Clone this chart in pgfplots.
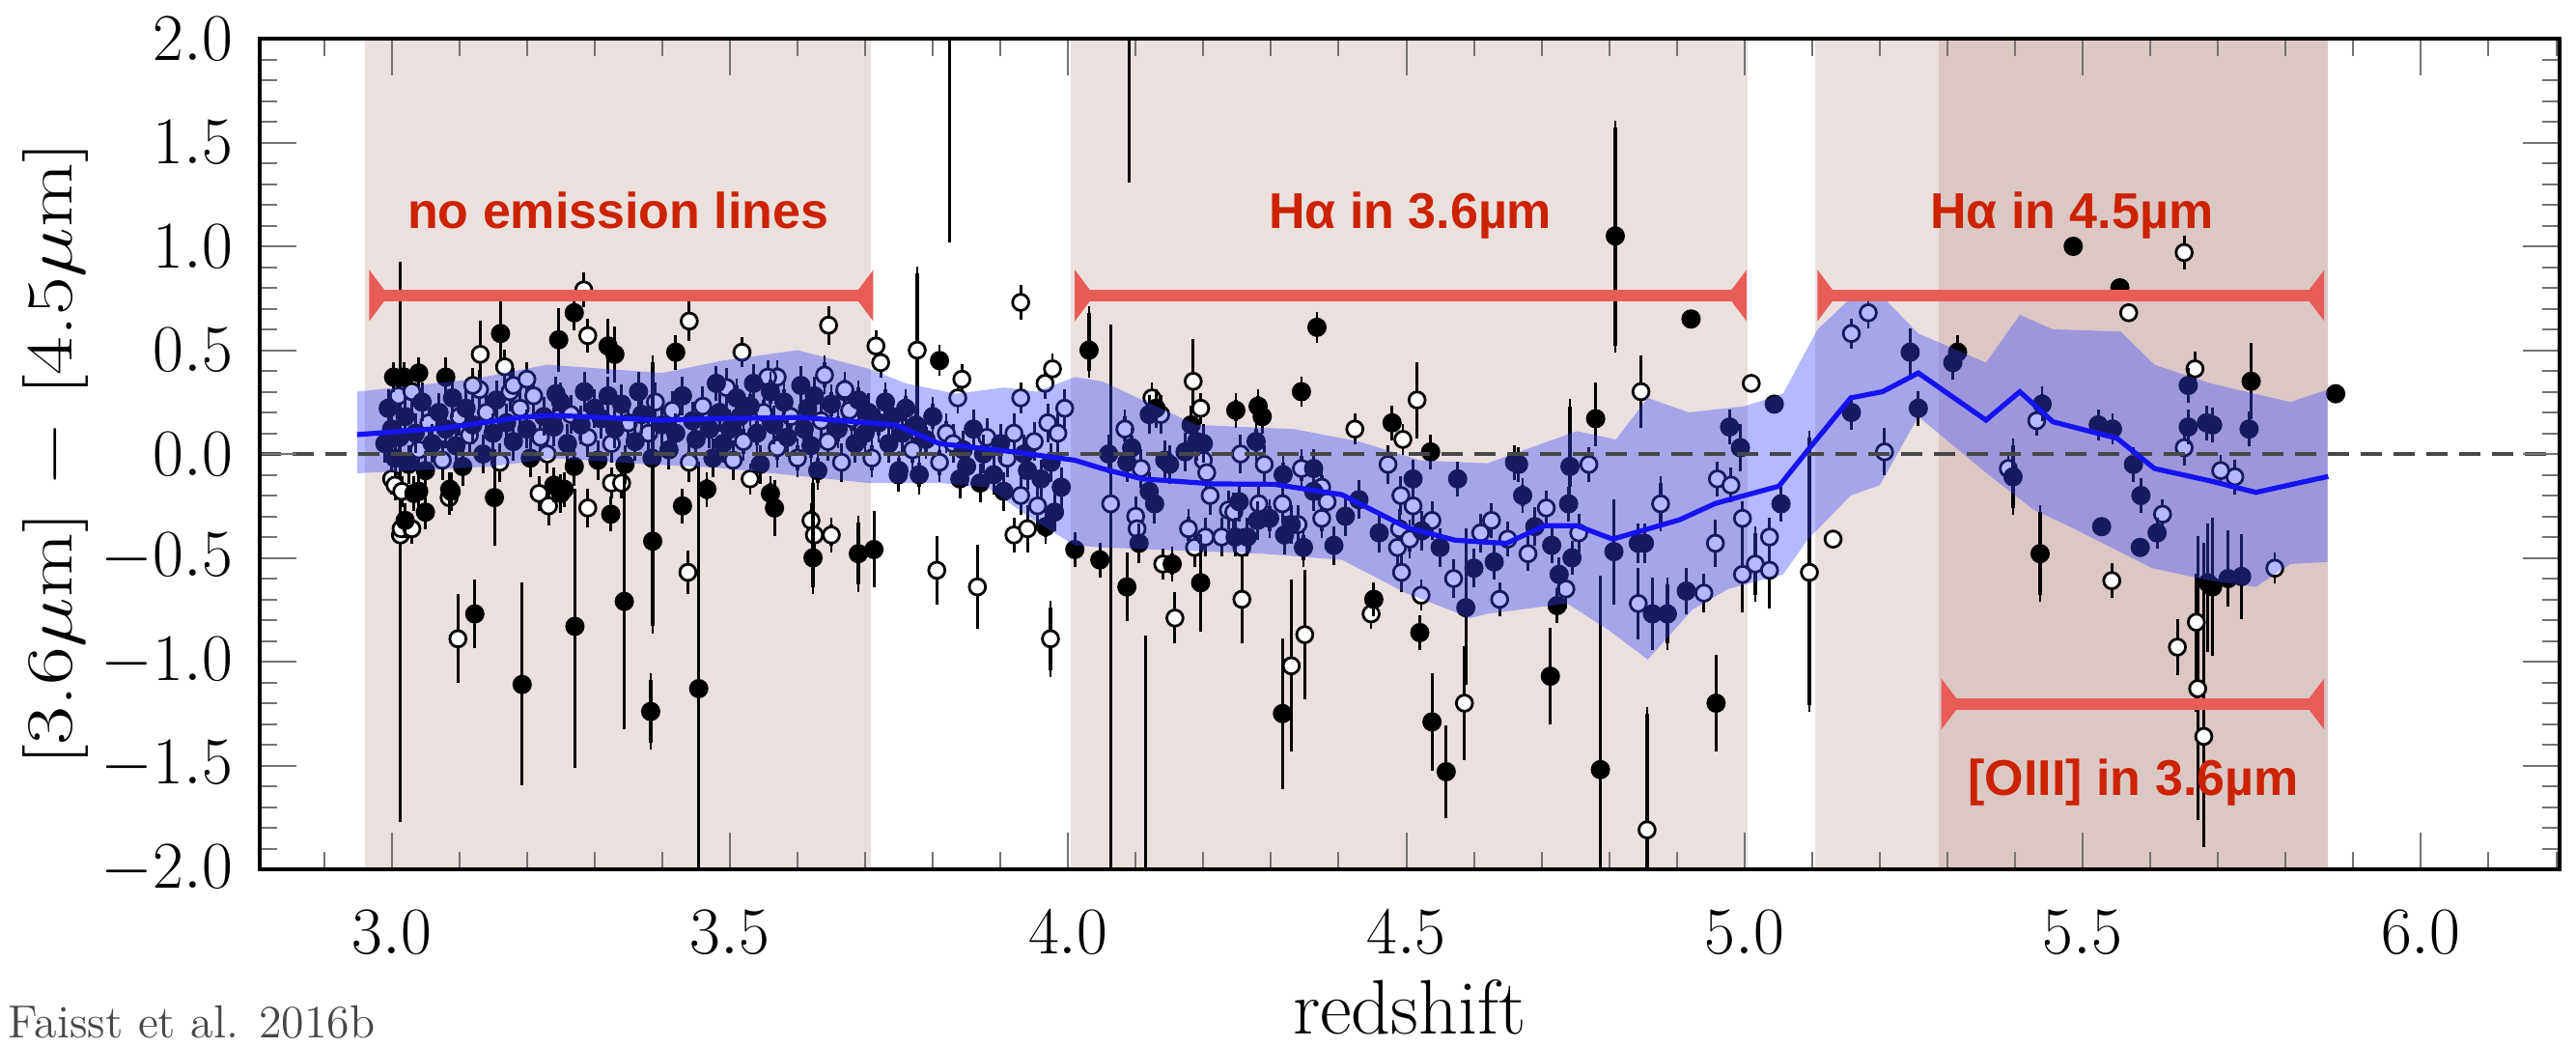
\documentclass[border=0pt]{standalone}
\usepackage{fontspec}
\usepackage{pgfplots}
\pgfplotsset{compat=1.18}
\usepackage{pgfplotstable}
\usetikzlibrary{arrows.meta}
\newfontfamily\lsans{Liberation Sans}
\definecolor{shadeA}{RGB}{234,224,222}
\definecolor{shadeB}{RGB}{219,200,197}
\definecolor{bandblue}{RGB}{60,70,255}
\definecolor{lineblue}{RGB}{20,20,240}
\definecolor{arrowred}{RGB}{232,92,88}
\definecolor{textred}{RGB}{204,34,0}

% filled symbols: x y err+ err-
\pgfplotstableread{
x y ep em
2.99 0.05 0.06 0.06
2.995 0.22 0.06 0.06
3.0 0.12 0.06 0.06
3.005 -0.02 0.06 0.06
3.012 0.08 0.06 0.06
3.02 0.18 0.06 0.06
3.025 -0.05 0.06 0.06
3.035 0.1 0.06 0.06
3.045 0.25 0.06 0.06
3.05 -0.08 0.06 0.06
3.06 0.05 0.06 0.06
3.07 0.2 0.06 0.06
3.08 0.12 0.06 0.06
3.09 0.27 0.06 0.06
3.095 0.04 0.06 0.06
3.105 -0.06 0.06 0.06
3.11 0.22 0.06 0.06
3.12 0.14 0.06 0.06
3.135 0.0 0.06 0.06
3.15 0.1 0.06 0.06
3.155 0.26 0.06 0.06
3.17 0.15 0.06 0.06
3.18 0.06 0.06 0.06
3.2 0.12 0.06 0.06
3.205 -0.02 0.06 0.06
3.225 0.18 0.06 0.06
3.24 0.13 0.06 0.06
3.25 0.25 0.06 0.06
3.26 0.05 0.06 0.06
3.27 -0.06 0.06 0.06
3.28 0.14 0.06 0.06
3.285 0.3 0.06 0.06
3.3 0.22 0.06 0.06
3.305 -0.03 0.06 0.06
3.31 0.17 0.06 0.06
3.32 0.28 0.06 0.06
3.33 0.12 0.06 0.06
3.34 0.24 0.06 0.06
3.345 -0.05 0.06 0.06
3.36 0.06 0.06 0.06
3.365 0.3 0.06 0.06
3.37 0.19 0.06 0.06
3.385 -0.02 0.06 0.06
3.4 0.14 0.06 0.06
3.41 0.02 0.06 0.06
3.42 0.1 0.06 0.06
3.43 0.28 0.06 0.06
3.445 0.16 0.06 0.06
3.45 0.07 0.06 0.06
3.47 0.12 0.06 0.06
3.475 -0.02 0.06 0.06
3.485 0.2 0.06 0.06
3.49 0.05 0.06 0.06
3.5 0.12 0.06 0.06
3.51 0.27 0.06 0.06
3.515 0.18 0.06 0.06
3.53 0.23 0.06 0.06
3.535 0.34 0.06 0.06
3.54 0.1 0.06 0.06
3.545 -0.05 0.06 0.06
3.56 0.3 0.06 0.06
3.565 0.14 0.06 0.06
3.58 0.25 0.06 0.06
3.585 0.08 0.06 0.06
3.605 0.33 0.06 0.06
3.61 0.12 0.06 0.06
3.615 0.22 0.06 0.06
3.62 0.04 0.06 0.06
3.625 0.28 0.06 0.06
3.63 -0.08 0.06 0.06
3.65 0.24 0.06 0.06
3.66 0.12 0.06 0.06
3.685 0.05 0.06 0.06
3.69 0.26 0.06 0.06
3.7 0.1 0.06 0.06
3.705 0.2 0.06 0.06
3.72 0.15 0.06 0.06
3.73 0.25 0.06 0.06
3.735 0.05 0.06 0.06
3.74 0.18 0.06 0.06
3.75 -0.08 0.06 0.06
3.755 0.1 0.06 0.06
3.76 0.22 0.06 0.06
3.775 0.14 0.06 0.06
3.78 -0.1 0.06 0.06
3.79 0.07 0.06 0.06
3.8 0.18 0.06 0.06
3.84 -0.12 0.06 0.06
3.845 0.02 0.06 0.06
3.85 -0.06 0.06 0.06
3.86 0.12 0.06 0.06
3.87 -0.14 0.06 0.06
3.875 0.0 0.06 0.06
3.89 -0.1 0.06 0.06
3.9 0.05 0.06 0.06
3.905 -0.18 0.06 0.06
3.935 0.0 0.06 0.06
3.94 -0.08 0.06 0.06
3.96 -0.12 0.06 0.06
3.975 -0.04 0.06 0.06
3.98 -0.28 0.06 0.06
3.99 -0.16 0.06 0.06
4.087 -0.04 0.06 0.06
4.094 0.03 0.06 0.06
4.12 -0.18 0.06 0.06
4.128 -0.24 0.06 0.06
4.105 -0.43 0.06 0.06
4.12 0.19 0.06 0.06
4.13 0.22 0.06 0.06
4.143 -0.03 0.06 0.06
4.15 -0.05 0.06 0.06
4.182 0.14 0.06 0.06
4.19 0.06 0.06 0.06
4.2 0.05 0.06 0.06
4.173 0.01 0.06 0.06
4.253 -0.23 0.06 0.06
4.247 -0.40 0.06 0.06
4.265 -0.40 0.06 0.06
4.278 0.06 0.06 0.06
4.28 -0.32 0.06 0.06
4.298 -0.31 0.06 0.06
4.318 -0.10 0.06 0.06
4.32 -0.39 0.06 0.06
4.33 -0.34 0.06 0.06
4.348 -0.45 0.06 0.06
4.363 -0.07 0.06 0.06
4.363 -0.18 0.06 0.06
4.393 -0.44 0.06 0.06
4.51 -0.12 0.06 0.06
4.523 -0.37 0.06 0.06
4.06 0.0 0.06 0.06
4.41 -0.3 0.06 0.06
4.43 -0.22 0.06 0.06
4.46 -0.38 0.06 0.06
4.55 -0.45 0.06 0.06
4.6 -0.55 0.06 0.06
3.003 0.37 0.04 0.04
3.018 0.37 0.04 0.04
3.04 0.39 0.04 0.04
3.08 0.37 0.06 0.06
3.161 0.58 0.15 0.1
3.247 0.55 0.12 0.12
3.27 0.68 0.05 0.05
3.32 0.52 0.1 0.1
3.33 0.48 0.1 0.1
3.42 0.49 0.05 0.05
3.243 0.29 0.05 0.05
3.04 -0.18 0.05 0.05
3.05 -0.28 0.05 0.05
3.02 -0.32 0.05 0.05
3.033 -0.19 0.05 0.05
3.088 -0.18 0.06 0.06
3.086 -0.17 0.05 0.05
3.152 -0.21 0.2 0.2
3.24 -0.15 0.05 0.05
3.25 -0.19 0.06 0.06
3.255 -0.17 0.05 0.05
3.324 -0.29 0.05 0.05
3.466 -0.17 0.05 0.05
3.43 -0.25 0.05 0.05
3.123 -0.77 0.13 0.13
3.193 -1.11 0.46 0.45
3.271 -0.83 0.63 0.65
3.344 -0.71 0.58 0.58
3.386 -0.42 0.86 0.41
3.383 -1.24 0.15 0.15
3.454 -1.13 1.06 1.2
3.48 0.34 0.05 0.05
3.81 0.45 0.04 0.04
4.031 0.50 0.18 0.1
3.56 -0.19 0.05 0.05
3.566 -0.26 0.1 0.1
3.623 -0.50 0.36 0.14
3.69 -0.48 0.15 0.15
3.713 -0.46 0.15 0.15
3.749 -0.10 0.05 0.05
3.967 -0.35 0.05 0.05
4.01 -0.46 0.05 0.05
4.047 -0.51 0.05 0.05
4.087 -0.64 0.13 0.13
4.154 -0.53 0.05 0.05
4.196 -0.62 0.2 0.2
4.317 -1.25 0.33 0.33
4.452 -0.70 0.05 0.05
4.52 -0.86 0.05 0.05
4.538 -1.29 0.2 0.2
4.559 -1.53 0.19 0.19
4.588 -0.74 0.35 0.34
4.576 -0.12 0.05 0.05
4.368 0.61 0.04 0.04
4.345 0.30 0.04 0.04
4.248 0.21 0.05 0.05
4.281 0.23 0.05 0.05
4.287 0.18 0.05 0.05
4.479 0.15 0.05 0.05
4.536 0.01 0.05 0.05
4.809 1.05 0.52 0.53
4.921 0.65 0.0 0.0
4.78 0.17 0.14 0.1
4.66 -0.04 0.05 0.05
4.666 -0.05 0.05 0.05
4.672 -0.20 0.05 0.05
5.044 0.24 0.0 0.0
4.978 0.13 0.05 0.05
4.994 0.03 0.08 0.08
5.054 -0.24 0.05 0.05
4.713 -1.07 0.2 0.2
4.787 -1.52 0.9 0.8
4.958 -1.2 0.2 0.2
4.807 -0.47 0.22 0.22
4.843 -0.43 0.06 0.06
4.852 -0.43 0.06 0.06
4.864 -0.77 0.14 0.14
4.886 -0.77 0.14 0.14
4.914 -0.66 0.08 0.08
4.715 -0.44 0.05 0.05
4.726 -0.58 0.05 0.05
4.745 -0.50 0.05 0.05
4.74 -0.24 0.05 0.05
4.742 -0.06 0.29 0.1
4.723 -0.73 0.05 0.05
4.63 -0.52 0.05 0.05
4.69 -0.35 0.06 0.06
5.158 0.20 0.05 0.05
5.245 0.49 0.08 0.08
5.257 0.22 0.05 0.05
5.315 0.49 0.05 0.05
5.308 0.44 0.05 0.05
5.397 -0.11 0.15 0.15
5.437 -0.48 0.2 0.2
5.44 0.24 0.05 0.05
5.486 1.0 0.0 0.0
5.555 0.80 0.0 0.0
5.523 0.14 0.04 0.04
5.544 0.12 0.04 0.04
5.575 -0.05 0.05 0.05
5.586 -0.20 0.05 0.05
5.528 -0.35 0.0 0.0
5.61 -0.38 0.04 0.04
5.585 -0.45 0.0 0.0
5.656 0.33 0.05 0.05
5.656 0.13 0.05 0.05
5.683 0.15 0.05 0.05
5.685 -0.62 0.25 0.3
5.749 0.35 0.15 0.15
5.746 0.12 0.05 0.05
5.692 0.14 0.05 0.05
5.874 0.29 0.0 0.0
5.715 -0.60 0.2 0.1
5.735 -0.59 0.17 0.17
5.692 -0.64 0.3 0.3
3.825 2.6 0.0 1.55
4.09 2.6 0.0 1.26
4.115 -2.3 1.39 0.0
}\filled

% open symbols: x y err+ err-
\pgfplotstableread{
x y ep em
3.01 0.28 0.06 0.06
3.03 0.3 0.06 0.06
3.04 0.02 0.06 0.06
3.055 0.15 0.06 0.06
3.075 -0.03 0.06 0.06
3.1 0.18 0.06 0.06
3.115 0.09 0.06 0.06
3.13 0.31 0.06 0.06
3.14 0.2 0.06 0.06
3.16 -0.04 0.06 0.06
3.175 0.3 0.06 0.06
3.19 0.22 0.06 0.06
3.21 0.28 0.06 0.06
3.22 0.08 0.06 0.06
3.23 0.0 0.06 0.06
3.265 0.19 0.06 0.06
3.29 0.08 0.06 0.06
3.325 0.05 0.06 0.06
3.35 0.15 0.06 0.06
3.38 0.1 0.06 0.06
3.39 0.25 0.06 0.06
3.415 0.21 0.06 0.06
3.44 -0.04 0.06 0.06
3.46 0.23 0.06 0.06
3.495 0.32 0.06 0.06
3.505 -0.03 0.06 0.06
3.52 0.06 0.06 0.06
3.55 0.2 0.06 0.06
3.57 0.03 0.06 0.06
3.59 0.18 0.06 0.06
3.6 -0.02 0.06 0.06
3.635 0.16 0.06 0.06
3.64 0.38 0.06 0.06
3.645 0.06 0.06 0.06
3.665 -0.04 0.06 0.06
3.67 0.3 0.06 0.06
3.68 0.17 0.06 0.06
3.71 -0.02 0.06 0.06
3.77 0.02 0.06 0.06
3.81 -0.04 0.06 0.06
3.82 0.1 0.06 0.06
3.83 0.05 0.06 0.06
3.88 0.08 0.06 0.06
3.91 -0.02 0.06 0.06
3.92 0.1 0.06 0.06
3.93 -0.2 0.06 0.06
3.95 0.06 0.06 0.06
3.955 -0.25 0.06 0.06
3.97 0.15 0.06 0.06
3.985 0.1 0.06 0.06
3.995 0.22 0.06 0.06
4.084 0.12 0.06 0.06
4.108 -0.07 0.06 0.06
4.1 -0.30 0.06 0.06
4.102 -0.36 0.06 0.06
4.137 0.19 0.06 0.06
4.2 -0.03 0.06 0.06
4.205 -0.09 0.06 0.06
4.21 -0.2 0.06 0.06
4.178 -0.36 0.06 0.06
4.187 -0.45 0.06 0.06
4.203 -0.40 0.06 0.06
4.227 -0.40 0.06 0.06
4.237 -0.27 0.06 0.06
4.245 -0.28 0.06 0.06
4.257 -0.45 0.06 0.06
4.255 0.0 0.06 0.06
4.29 -0.05 0.06 0.06
4.282 -0.24 0.06 0.06
4.317 -0.24 0.06 0.06
4.34 -0.34 0.06 0.06
4.345 -0.07 0.06 0.06
4.375 -0.16 0.06 0.06
4.383 -0.23 0.06 0.06
4.375 -0.31 0.06 0.06
4.473 -0.05 0.06 0.06
4.492 -0.2 0.06 0.06
4.49 -0.36 0.06 0.06
4.487 -0.45 0.06 0.06
4.493 -0.57 0.06 0.06
4.51 -0.25 0.06 0.06
4.505 -0.41 0.06 0.06
4.538 -0.32 0.06 0.06
4.57 -0.6 0.06 0.06
4.61 -0.38 0.06 0.06
3.013 -0.39 1.28 1.35
3.098 -0.89 0.18 0.18
3.438 -0.57 0.07 0.07
3.131 0.48 0.13 0.13
3.284 0.79 0.05 0.05
3.29 0.57 0.05 0.05
3.44 0.64 0.06 0.06
3.167 0.42 0.05 0.05
3.18 0.33 0.05 0.05
3.2 0.36 0.05 0.05
3.12 0.33 0.05 0.05
3.0 -0.12 0.04 0.04
3.005 -0.15 0.04 0.04
3.015 -0.18 0.04 0.04
3.014 -0.36 0.04 0.04
3.03 -0.36 0.04 0.04
3.085 -0.21 0.05 0.05
3.218 -0.19 0.05 0.05
3.232 -0.25 0.06 0.06
3.29 -0.26 0.06 0.06
3.325 -0.14 0.04 0.04
3.34 -0.14 0.04 0.04
3.93 0.73 0.05 0.05
3.646 0.62 0.06 0.06
3.518 0.49 0.04 0.04
3.716 0.52 0.04 0.04
3.723 0.44 0.04 0.04
3.777 0.50 0.37 0.37
3.843 0.36 0.04 0.04
3.837 0.27 0.04 0.04
3.966 0.34 0.04 0.04
3.977 0.41 0.04 0.04
3.93 0.27 0.04 0.04
3.57 0.37 0.05 0.05
3.556 0.37 0.05 0.05
3.67 0.31 0.05 0.05
3.677 0.21 0.05 0.05
3.53 -0.12 0.04 0.04
3.62 -0.32 0.05 0.05
3.625 -0.39 0.05 0.05
3.65 -0.39 0.05 0.05
3.806 -0.56 0.13 0.13
3.866 -0.64 0.17 0.17
3.974 -0.89 0.15 0.15
3.92 -0.39 0.05 0.05
3.94 -0.36 0.08 0.08
4.185 0.35 0.17 0.1
4.196 0.22 0.04 0.04
4.124 0.27 0.04 0.04
4.424 0.12 0.04 0.04
4.516 0.26 0.15 0.15
4.495 0.07 0.04 0.04
4.063 -0.24 0.83 2.1
4.158 -0.79 0.09 0.09
4.14 -0.53 0.04 0.04
4.257 -0.70 0.18 0.18
4.33 -1.02 0.38 0.38
4.35 -0.87 0.28 0.28
4.448 -0.77 0.04 0.04
4.586 -1.2 0.24 0.24
4.522 -0.68 0.04 0.04
4.847 0.30 0.14 0.14
4.77 -0.05 0.05 0.05
5.01 0.34 0.0 0.0
5.131 -0.41 0.0 0.0
5.096 -0.57 0.65 0.64
4.856 -1.81 0.56 0.6
4.876 -0.24 0.1 0.1
4.957 -0.43 0.08 0.08
4.997 -0.58 0.15 0.15
5.016 -0.53 0.15 0.15
5.037 -0.56 0.15 0.15
5.037 -0.40 0.06 0.06
4.997 -0.31 0.05 0.05
4.96 -0.12 0.05 0.05
4.98 -0.15 0.05 0.05
4.843 -0.72 0.14 0.14
4.94 -0.67 0.06 0.06
4.626 -0.32 0.05 0.05
4.65 -0.41 0.05 0.05
4.638 -0.70 0.05 0.05
4.707 -0.26 0.05 0.05
4.736 -0.65 0.06 0.06
4.755 -0.38 0.06 0.06
4.68 -0.48 0.05 0.05
5.158 0.58 0.04 0.04
5.183 0.68 0.04 0.04
5.207 0.01 0.08 0.08
5.39 -0.07 0.04 0.04
5.432 0.16 0.04 0.04
5.65 0.97 0.05 0.05
5.568 0.68 0.0 0.0
5.543 -0.61 0.05 0.05
5.618 -0.29 0.04 0.04
5.666 0.41 0.05 0.05
5.65 0.03 0.05 0.05
5.64 -0.93 0.1 0.1
5.668 -0.81 0.2 0.4
5.67 -1.13 0.7 0.6
5.679 -1.36 0.9 0.5
5.725 -0.11 0.05 0.05
5.704 -0.08 0.04 0.04
5.784 -0.55 0.04 0.04
}\opensym

\begin{document}
\begin{tikzpicture}
\useasboundingbox (-67.25pt,-46pt) rectangle (599.75pt,225pt);
\begin{axis}[
  at={(0pt,0pt)}, anchor=south west,
  scale only axis, width=595.5pt, height=215pt,
  xmin=2.805, xmax=6.205, ymin=-2, ymax=2,
  axis on top,
  clip marker paths=true,
  axis line style={black, line width=1pt},
  xtick={3,3.5,4,4.5,5,5.5,6},
  minor xtick={2.9,3.1,3.2,3.3,3.4,3.6,3.7,3.8,3.9,4.1,4.2,4.3,4.4,4.6,4.7,4.8,4.9,5.1,5.2,5.3,5.4,5.6,5.7,5.8,5.9,6.1,6.2},
  ytick={-2,-1.5,-1,-0.5,0,0.5,1,1.5,2},
  minor y tick num=4,
  tick align=inside,
  major tick length=9.5pt, minor tick length=4.5pt,
  every tick/.style={black!55, line width=0.5pt},
  tick label style={font=\fontsize{16}{19}\selectfont},
  x tick label style={yshift=-7.2pt, /pgf/number format/.cd, fixed, fixed zerofill, precision=1},
  y tick label style={xshift=-3.5pt, /pgf/number format/.cd, fixed, fixed zerofill, precision=1},
  xlabel={redshift},
  xlabel style={font=\fontsize{20}{23}\selectfont, at={(axis description cs:0.5,0)}, anchor=base, yshift=-42.5pt},
  ylabel={\scalebox{1.27}[1]{[3.6$\mu$m] $-$ [4.5$\mu$m]}},
  ylabel style={font=\fontsize{17}{20}\selectfont, at={(axis description cs:-0.0886,0.5)}, anchor=center},
]
% shaded wavelength regions
\addplot[draw=none, fill=shadeA] coordinates {(2.961,-2) (3.708,-2) (3.708,2) (2.961,2)} -- cycle;
\addplot[draw=none, fill=shadeA] coordinates {(4.004,-2) (5.004,-2) (5.004,2) (4.004,2)} -- cycle;
\addplot[draw=none, fill=shadeA] coordinates {(5.104,-2) (5.287,-2) (5.287,2) (5.104,2)} -- cycle;
\addplot[draw=none, fill=shadeB] coordinates {(5.287,-2) (5.862,-2) (5.862,2) (5.287,2)} -- cycle;

% open symbols
\addplot[only marks, mark=*, mark size=2.1pt, mark options={fill=white, draw=black, line width=0.7pt},
  error bars/.cd, y dir=both, y explicit,
  error bar style={black, line width=0.8pt},
  error mark options={black, line width=0.7pt, mark size=1.8pt}]
  table[x=x, y=y, y error plus=ep, y error minus=em] {\opensym};
% filled symbols
\addplot[only marks, mark=*, mark size=2.3pt, mark options={fill=black, draw=black},
  error bars/.cd, y dir=both, y explicit,
  error bar style={black, line width=0.8pt},
  error mark options={black, line width=0.7pt, mark size=1.8pt}]
  table[x=x, y=y, y error plus=ep, y error minus=em] {\filled};

% running percentile band
\addplot[draw=none, fill=bandblue, fill opacity=0.38] coordinates {
(2.949,0.30) (3.12,0.36) (3.23,0.43) (3.40,0.39) (3.49,0.45) (3.60,0.50) (3.706,0.41) (3.76,0.34)
(3.834,0.29) (3.906,0.32) (3.953,0.30) (4.01,0.37) (4.05,0.35) (4.19,0.14) (4.334,0.12) (4.43,0.06)
(4.52,-0.03) (4.62,-0.045) (4.752,0.11) (4.81,0.07) (4.857,0.27) (4.918,0.20) (5.0,0.23) (5.057,0.29)
(5.108,0.60) (5.157,0.75) (5.20,0.77) (5.257,0.58) (5.357,0.44) (5.407,0.67) (5.456,0.60) (5.556,0.59)
(5.606,0.43) (5.689,0.34) (5.807,0.25) (5.862,0.31)
(5.862,-0.52) (5.807,-0.53) (5.756,-0.64) (5.689,-0.61) (5.603,-0.55) (5.475,-0.34) (5.428,-0.27)
(5.357,-0.09) (5.257,0.18) (5.20,-0.15) (5.157,-0.2) (5.094,-0.41) (5.057,-0.58) (4.976,-0.65)
(4.923,-0.75) (4.857,-0.99) (4.80,-0.85) (4.738,-0.72) (4.619,-0.77) (4.595,-0.79) (4.50,-0.67)
(4.405,-0.51) (4.287,-0.48) (4.049,-0.45) (4.01,-0.44) (3.95,-0.32) (3.88,-0.16) (3.81,-0.14)
(3.706,-0.14) (3.478,-0.065) (3.38,-0.05) (3.24,-0.02) (3.15,-0.06) (2.949,-0.093)
} -- cycle;

% zero line
\addplot[black!72, line width=0.9pt, dash pattern=on 5.5pt off 3pt] coordinates {(2.805,0) (6.205,0)};

% running median
\addplot[lineblue, line width=1.3pt] coordinates {
(2.949,0.093) (3.077,0.125) (3.195,0.178) (3.24,0.186) (3.397,0.163) (3.478,0.17) (3.605,0.176)
(3.745,0.14) (3.81,0.05) (3.92,0.01) (4.01,-0.03) (4.05,-0.07) (4.11,-0.12) (4.215,-0.144)
(4.305,-0.146) (4.405,-0.196) (4.50,-0.353) (4.572,-0.415) (4.619,-0.425) (4.648,-0.43)
(4.705,-0.345) (4.752,-0.345) (4.805,-0.41) (4.904,-0.317) (4.957,-0.238) (5.051,-0.155)
(5.094,0.02) (5.157,0.27) (5.204,0.30) (5.257,0.39) (5.357,0.163) (5.407,0.30) (5.456,0.155)
(5.551,0.075) (5.606,-0.07) (5.689,-0.13) (5.756,-0.185) (5.863,-0.108)
};

% annotations
\draw[arrowred, line width=3pt, {Triangle[reversed,length=5pt,width=13pt]}-{Triangle[reversed,length=5pt,width=13pt]}]
  (axis cs:2.967,0.763) -- (axis cs:3.712,0.763);
\draw[arrowred, line width=3pt, {Triangle[reversed,length=5pt,width=13pt]}-{Triangle[reversed,length=5pt,width=13pt]}]
  (axis cs:4.010,0.763) -- (axis cs:5.003,0.763);
\draw[arrowred, line width=3pt, {Triangle[reversed,length=5pt,width=13pt]}-{Triangle[reversed,length=5pt,width=13pt]}]
  (axis cs:5.108,0.763) -- (axis cs:5.857,0.763);
\draw[arrowred, line width=3pt, {Triangle[reversed,length=5pt,width=13pt]}-{Triangle[reversed,length=5pt,width=13pt]}]
  (axis cs:5.291,-1.204) -- (axis cs:5.857,-1.204);

\node[text=textred, font=\lsans\bfseries\fontsize{13}{15}\selectfont, anchor=base] at (axis cs:3.335,1.084) {no emission lines};
\node[text=textred, font=\lsans\bfseries\fontsize{13}{15}\selectfont, anchor=base] at (axis cs:4.506,1.084) {Hα in 3.6µm};
\node[text=textred, font=\lsans\bfseries\fontsize{13}{15}\selectfont, anchor=base] at (axis cs:5.484,1.084) {Hα in 4.5µm};
\node[text=textred, font=\lsans\bfseries\fontsize{13}{15}\selectfont, anchor=base] at (axis cs:5.575,-1.643) {[OIII] in 3.6µm};
\end{axis}
\node[anchor=base west, inner sep=0pt, text=black!72, font=\fontsize{12}{15}\selectfont] at (-65.25pt,-43.5pt) {Faisst et al. 2016b};
\end{tikzpicture}
\end{document}
